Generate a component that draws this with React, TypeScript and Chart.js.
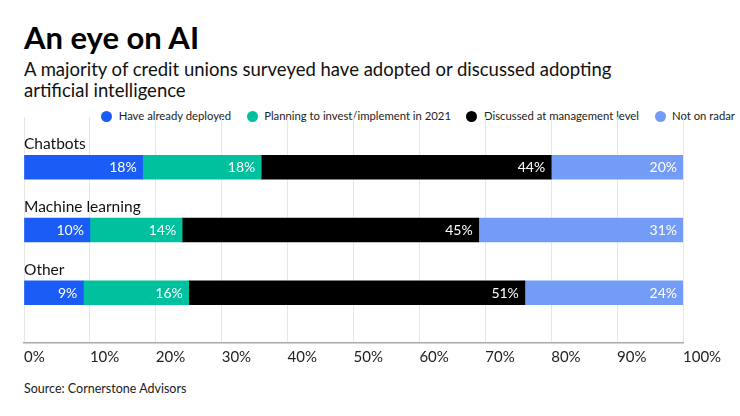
import React, { useEffect, useRef } from "react";
import { Chart, registerables } from "chart.js";

Chart.register(...registerables);

const categories = ["Chatbots", "Machine learning", "Other"];
const seriesNames = [
  "Have already deployed",
  "Planning to invest/implement in 2021",
  "Discussed at management level",
  "Not on radar",
];
const deployed = [18, 10, 9];
const planning = [18, 14, 16];
const discussed = [44, 45, 51];
const notOnRadar = [20, 31, 24];
const seriesValues = [deployed, planning, discussed, notOnRadar];
const seriesColors = ["#1a5cf5", "#00c19e", "#000000", "#739cf7"];
const xTickSuffix = "%";

const FONT = "Lato, 'DejaVu Sans', sans-serif";

const labelPlugin = {
  id: "inlineLabels",
  afterDatasetsDraw(chart: any) {
    const ctx = chart.ctx;
    const yScale = chart.scales.y;
    const area = chart.chartArea;
    ctx.save();
    ctx.font = `15.5px ${FONT}`;
    ctx.fillStyle = "#111";
    ctx.textAlign = "left";
    ctx.textBaseline = "alphabetic";
    categories.forEach((c, i) => {
      const y = yScale.getPixelForValue(i);
      ctx.fillText(c, area.left, y - 18);
    });
    ctx.font = `14px ${FONT}`;
    ctx.fillStyle = "#ffffff";
    ctx.textAlign = "right";
    chart.data.datasets.forEach((ds: any, di: number) => {
      const meta = chart.getDatasetMeta(di);
      meta.data.forEach((el: any, i: number) => {
        const v = seriesValues[di][i];
        ctx.fillText(v + xTickSuffix, el.x - 6, el.y + 5);
      });
    });
    ctx.restore();
  },
};

function ChartCanvas() {
  const ref = useRef<HTMLCanvasElement | null>(null);
  useEffect(() => {
    if (!ref.current) return;
    const chart = new Chart(ref.current, {
      type: "bar",
      data: {
        datasets: seriesValues.map((vals, k) => ({
          label: seriesNames[k],
          data: vals.map((v, i) => ({ x: v, y: i })),
          backgroundColor: seriesColors[k],
          borderWidth: 0,
          barThickness: 24,
        })),
      },
      options: {
        indexAxis: "y",
        responsive: false,
        animation: false,
        layout: { padding: { left: 24, right: 57, top: 0, bottom: 2 } },
        scales: {
          x: {
            type: "linear",
            stacked: true,
            min: 0,
            max: 100,
            ticks: {
              stepSize: 10,
              align: "start",
              padding: 5,
              color: "#222",
              font: { family: FONT, size: 15 },
              callback: (v: any) => v + xTickSuffix,
            },
            grid: { color: "#e6e6e6", drawTicks: false, lineWidth: 1 },
            border: { color: "#aaaaaa", width: 1.5 },
          },
          y: {
            type: "linear",
            stacked: true,
            reverse: true,
            offset: false,
            min: -0.8,
            max: 2.8,
            display: false,
          },
        },
        plugins: {
          legend: { display: false },
          tooltip: { enabled: false },
        },
      } as any,
      plugins: [labelPlugin],
    });
    return () => chart.destroy();
  }, []);
  return (
    <canvas
      ref={ref}
      width={740}
      height={256}
      style={{ position: "absolute", left: 0, top: 117, width: 740, height: 256 }}
    />
  );
}

export default function App() {
  return (
    <div
      style={{
        position: "relative",
        width: 740,
        height: 416,
        background: "#fff",
        fontFamily: FONT,
        overflow: "hidden",
      }}
    >
      <style>{"body{margin:0}"}</style>
      <div
        style={{
          position: "absolute",
          left: 24,
          top: 19,
          fontSize: 31,
          fontWeight: 700,
          lineHeight: 1.2,
          color: "#000",
          whiteSpace: "nowrap",
        }}
      >
        An eye on AI
      </div>
      <div
        style={{
          position: "absolute",
          left: 24,
          top: 59,
          fontSize: 18.5,
          lineHeight: "21px",
          color: "#111",
          whiteSpace: "nowrap",
        }}
      >
        A majority of credit unions surveyed have adopted or discussed adopting
        <br />
        artificial intelligence
      </div>
      <div
        style={{
          position: "absolute",
          right: 5,
          top: 109,
          display: "flex",
          alignItems: "center",
          fontSize: 11.3,
          lineHeight: "14px",
          color: "#222",
          whiteSpace: "nowrap",
        }}
      >
        {seriesNames.map((name, k) => (
          <span
            key={name}
            style={{ display: "flex", alignItems: "center", marginLeft: k ? 15.5 : 0 }}
          >
            <span
              style={{
                display: "inline-block",
                width: 11,
                height: 11,
                borderRadius: "50%",
                background: seriesColors[k],
                marginRight: 6.5,
              }}
            />
            <span>{name}</span>
          </span>
        ))}
      </div>
      <ChartCanvas />
      <div
        style={{
          position: "absolute",
          left: 24,
          top: 381,
          fontSize: 12.5,
          lineHeight: 1.2,
          color: "#222",
          whiteSpace: "nowrap",
        }}
      >
        Source: Cornerstone Advisors
      </div>
    </div>
  );
}
